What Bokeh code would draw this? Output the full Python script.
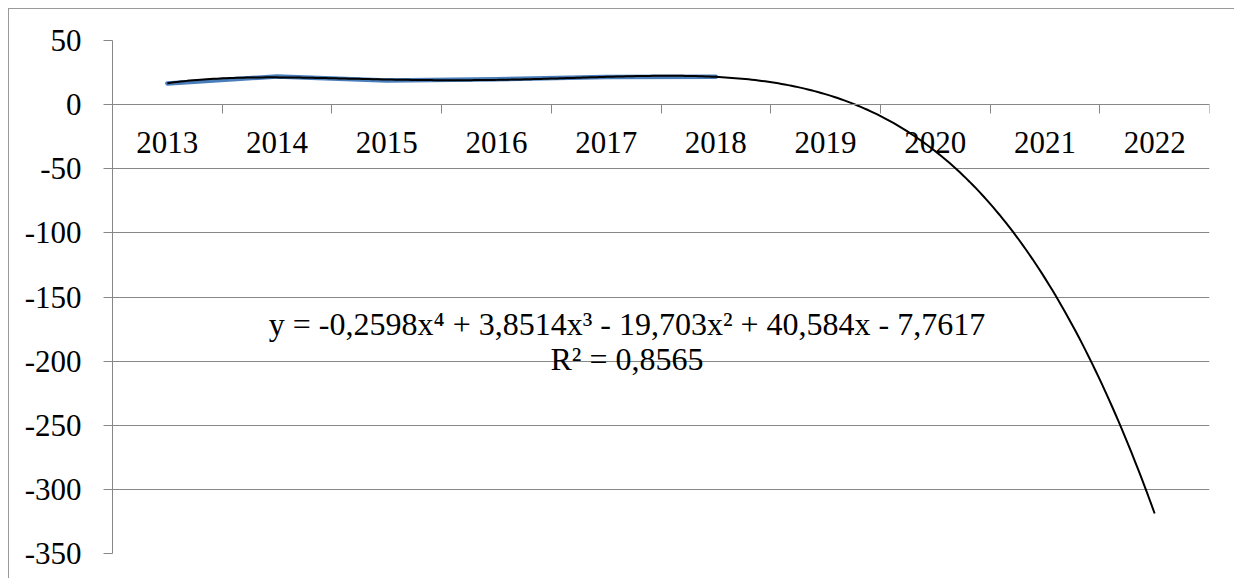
import numpy as np
from bokeh.plotting import figure
from bokeh.models import LinearAxis, FixedTicker, Range1d
from bokeh.embed import file_html
from bokeh.resources import INLINE
from bokeh.core.properties import value

# ---- data ----
years = ["2013", "2014", "2015", "2016", "2017", "2018", "2019", "2020", "2021", "2022"]
series_years = ["2013", "2014", "2015", "2016", "2017", "2018"]
series_values = [16.5, 22.0, 18.8, 19.8, 21.5, 21.8]
trend_coeffs = [-0.2598, 3.8514, -19.703, 40.584, -7.7617]  # x^4 .. x^0, as displayed
y_ticks = [-350, -300, -250, -200, -150, -100, -50, 0, 50]
y_tick_labels = ["-350", "-300", "-250", "-200", "-150", "-100", "-50", "0", "50"]
equation_text = "y = -0,2598x\u2074 + 3,8514x\u00b3 - 19,703x\u00b2 + 40,584x - 7,7617"
r2_text = "R\u00b2 = 0,8565"

GRID = "#878787"
FONT = "Liberation Serif"
FS = "31px"

pos = {y: i + 1 for i, y in enumerate(years)}
sx = [pos[y] for y in series_years]

p = figure(width=1226, height=570,
           x_range=Range1d(0.5, len(years) + 0.5), y_range=Range1d(-350, 50),
           output_backend="svg", toolbar_location=None,
           min_border_left=103, min_border_right=26, min_border_top=31, min_border_bottom=26)
p.styles = {"border-left": "1px solid #9a9a9a", "border-top": "1px solid #9a9a9a",
            "margin-left": "8px", "margin-top": "8px"}
p.outline_line_color = None
p.background_fill_color = "white"
p.border_fill_color = "white"

# y axis
p.yaxis.ticker = FixedTicker(ticks=y_ticks)
p.yaxis.major_label_overrides = dict(zip(y_ticks, y_tick_labels))
p.yaxis.axis_line_color = GRID
p.yaxis.major_tick_line_color = GRID
p.yaxis.minor_tick_line_color = None
p.yaxis.major_tick_in = 0
p.yaxis.major_tick_out = 9
p.yaxis.major_label_standoff = 22
p.yaxis.major_label_text_font = FONT
p.yaxis.major_label_text_font_size = FS
p.yaxis.major_label_text_color = "black"

# grid
p.xgrid.visible = False
p.ygrid.ticker = FixedTicker(ticks=y_ticks)
p.ygrid.grid_line_color = GRID
p.ygrid.grid_line_width = 1

# category boundary ticks on the y=0 axis
xa = p.xaxis[0]
xa.fixed_location = 0
xa.ticker = FixedTicker(ticks=[i + 0.5 for i in range(len(years) + 1)])
xa.major_label_text_alpha = 0
xa.major_label_text_font_size = "1px"
xa.axis_line_color = GRID
xa.major_tick_line_color = GRID
xa.minor_tick_line_color = None
xa.major_tick_in = 0
xa.major_tick_out = 9

# category labels
la = LinearAxis(fixed_location=0,
                ticker=FixedTicker(ticks=[pos[y] for y in years]),
                major_label_overrides={pos[y]: y for y in years})
la.axis_line_color = None
la.major_tick_line_color = None
la.minor_tick_line_color = None
la.major_tick_in = 0
la.major_tick_out = 0
la.major_label_standoff = 27
la.major_label_text_font = FONT
la.major_label_text_font_size = FS
la.major_label_text_color = "black"
p.add_layout(la, "below")

# data series
p.line(sx, series_values, line_color="#4a7ebb", line_width=4.5, line_cap="round", line_join="round")

# polynomial trendline from displayed equation
tx = np.linspace(1, len(years), 300)
ty = np.polyval(trend_coeffs, tx)
p.line(tx, ty, line_color="black", line_width=2)

# equation label
p.text(x=[5.19], y=[-170.7], text=[equation_text], text_align="center", text_baseline="alphabetic",
       text_font=value(FONT), text_font_size="32px", text_color="black")
p.text(x=[5.19], y=[-198.0], text=[r2_text], text_align="center", text_baseline="alphabetic",
       text_font=value(FONT), text_font_size="32px", text_color="black")

open("out.html", "w").write(file_html(p, INLINE))
